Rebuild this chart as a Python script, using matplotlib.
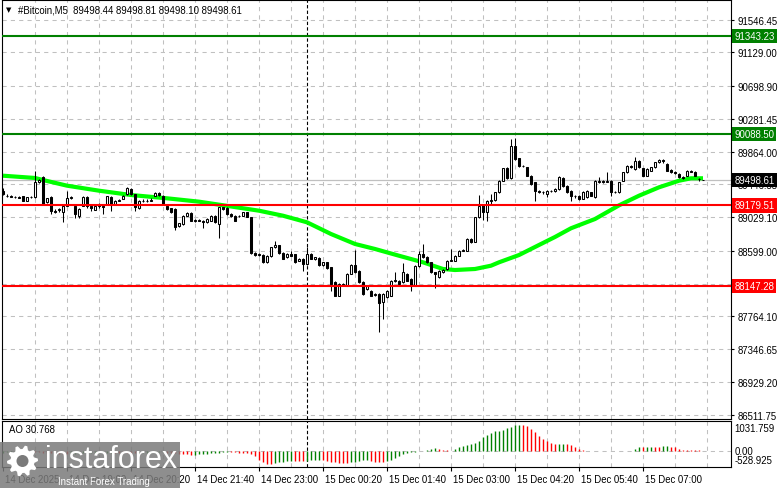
import numpy as np
import matplotlib
matplotlib.use('Agg')
import matplotlib.pyplot as plt
import matplotlib.transforms as mtransforms
from matplotlib.patches import Rectangle, Polygon, Circle

plt.rcParams['font.family'] = ['Liberation Sans', 'DejaVu Sans']

# M5 candles, bar 0 = 14 Dec 17:40
opens = [89367, 89304, 89295, 89282, 89285, 89295, 89240, 89282, 89282, 89482, 89537, 89219, 89282, 89110, 89125, 89091,
         89176, 89274, 89176, 89040, 89176, 89291, 89170, 89125, 89176, 89176, 89197, 89291, 89197, 89240, 89261, 89325,
         89389, 89325, 89142, 89240, 89236, 89240, 89304, 89333, 89295, 89176, 89142, 89134, 88921, 88942, 89048, 89078,
         88985, 88990, 88985, 88964, 88985, 89048, 88942, 89155, 89150, 89070, 89048, 89040, 89048, 89091, 89027, 88568,
         88545, 88547, 88453, 88530, 88645, 88675, 88572, 88520, 88560, 88560, 88475, 88496, 88432, 88560, 88496, 88513,
         88420, 88453, 88390, 88199, 88029, 88177, 88156, 88305, 88420, 88347, 88207, 88114, 88092, 88037, 88050, 87943,
         88010, 88029, 88220, 88220, 88199, 88305, 88240, 88156, 88411, 88560, 88517, 88453, 88326, 88262, 88330, 88369,
         88475, 88475, 88538, 88602, 88602, 88751, 88717, 89027, 89185, 89091, 89240, 89248, 89346, 89495, 89652, 89524,
         89941, 89779, 89686, 89664, 89558, 89473, 89367, 89346, 89325, 89367, 89367, 89388, 89524, 89431, 89367, 89303,
         89303, 89261, 89282, 89346, 89282, 89473, 89495, 89482, 89495, 89346, 89346, 89495, 89601, 89686, 89643, 89750,
         89652, 89558, 89622, 89664, 89728, 89758, 89707, 89635, 89601, 89580, 89537, 89558, 89622, 89609, 89520, 89498.44]
highs = [89397, 89320, 89310, 89300, 89298, 89300, 89290, 89300, 89614, 89520, 89558, 89280, 89304, 89130, 89145, 89180,
         89359, 89300, 89180, 89140, 89300, 89295, 89176, 89185, 89210, 89190, 89300, 89300, 89250, 89260, 89310, 89420,
         89400, 89330, 89250, 89255, 89255, 89270, 89350, 89345, 89310, 89180, 89150, 89140, 88960, 89055, 89090, 89090,
         89000, 89000, 88990, 89015, 89055, 89060, 89165, 89165, 89155, 89080, 89055, 89060, 89100, 89100, 89035, 88580,
         88570, 88555, 88545, 88655, 88730, 88680, 88580, 88575, 88602, 88565, 88505, 88505, 88645, 88570, 88525, 88520,
         88460, 88460, 88400, 88210, 88185, 88190, 88315, 88430, 88615, 88355, 88215, 88165, 88100, 88060, 88060, 88060,
         88100, 88225, 88335, 88230, 88450, 88315, 88250, 88420, 88602, 88687, 88530, 88460, 88335, 88355, 88370, 88480,
         88623, 88545, 88610, 88620, 88760, 88765, 89035, 89312, 89195, 89250, 89325, 89355, 89505, 89660, 89665, 90026,
         90034, 89790, 89700, 89675, 89565, 89480, 89380, 89365, 89375, 89380, 89400, 89550, 89540, 89440, 89375, 89315,
         89310, 89360, 89375, 89355, 89505, 89537, 89505, 89601, 89505, 89365, 89480, 89610, 89695, 89695, 89792, 89760,
         89660, 89650, 89675, 89735, 89770, 89772, 89715, 89645, 89612, 89590, 89548, 89630, 89630, 89618, 89530, 89498.81]
lows = [89312, 89290, 89282, 89270, 89270, 89232, 89232, 89272, 89270, 89470, 89189, 89210, 89070, 89085, 89090, 88972,
        89170, 89265, 89015, 89015, 89170, 89142, 89112, 89120, 89150, 89070, 89190, 89112, 89190, 89230, 89255, 89315,
        89315, 89104, 89135, 89225, 89228, 89230, 89295, 89300, 89190, 89125, 89080, 88870, 88910, 88935, 89040, 88975,
        88970, 88975, 88887, 88955, 88980, 88955, 88760, 89125, 89060, 89030, 88975, 89030, 89040, 89030, 88555, 88530,
        88530, 88445, 88445, 88525, 88640, 88565, 88490, 88510, 88530, 88445, 88465, 88347, 88425, 88490, 88488, 88410,
        88410, 88370, 88092, 88020, 88020, 88150, 88150, 88300, 88315, 88190, 88040, 88100, 88020, 88025, 87570, 87731,
        88000, 88020, 88200, 88165, 88190, 88210, 88092, 88150, 88400, 88510, 88445, 88320, 88122, 88255, 88320, 88360,
        88465, 88470, 88530, 88595, 88595, 88705, 88710, 89020, 88990, 88980, 89197, 89240, 89340, 89490, 89515, 89515,
        89760, 89675, 89665, 89550, 89445, 89240, 89335, 89330, 89282, 89350, 89355, 89380, 89420, 89335, 89240, 89269,
        89250, 89255, 89275, 89295, 89275, 89465, 89470, 89475, 89303, 89335, 89340, 89485, 89595, 89660, 89635, 89655,
        89550, 89550, 89615, 89655, 89720, 89725, 89615, 89590, 89585, 89525, 89520, 89550, 89600, 89550, 89490, 89498.10]
closes = [89325, 89300, 89291, 89286, 89280, 89240, 89282, 89286, 89482, 89500, 89197, 89274, 89112, 89100, 89134, 89176,
          89274, 89290, 89070, 89134, 89291, 89176, 89140, 89176, 89197, 89155, 89295, 89197, 89240, 89245, 89295, 89397,
          89325, 89155, 89240, 89236, 89240, 89245, 89333, 89310, 89197, 89134, 89091, 88900, 88950, 89048, 89078, 88985,
          88990, 88985, 88964, 89006, 89048, 88964, 89155, 89134, 89070, 89040, 88985, 89048, 89091, 89036, 88568, 88545,
          88555, 88453, 88538, 88645, 88675, 88572, 88496, 88560, 88540, 88453, 88496, 88432, 88560, 88496, 88517, 88420,
          88453, 88377, 88177, 88029, 88177, 88160, 88305, 88420, 88326, 88199, 88050, 88150, 88029, 88045, 87935, 88050,
          88092, 88220, 88225, 88177, 88326, 88220, 88156, 88411, 88560, 88517, 88453, 88326, 88310, 88347, 88360, 88475,
          88480, 88538, 88602, 88606, 88751, 88717, 89027, 89176, 89091, 89240, 89248, 89346, 89495, 89652, 89524, 89941,
          89771, 89686, 89680, 89558, 89452, 89367, 89350, 89350, 89367, 89362, 89388, 89537, 89431, 89346, 89303, 89300,
          89261, 89354, 89367, 89303, 89495, 89495, 89482, 89495, 89346, 89350, 89473, 89601, 89686, 89673, 89750, 89664,
          89558, 89643, 89664, 89728, 89758, 89740, 89622, 89601, 89597, 89537, 89533, 89622, 89609, 89558, 89510, 89498.61]

# moving average (bar index, price)
ma_bar = [0, 8, 10, 16, 24, 32, 41, 49, 54, 64, 70, 76, 82, 88, 93, 99, 105, 110, 113,
          118, 122, 124, 129, 134, 138, 142, 148, 154, 159, 164, 169, 172, 175]
ma_price = [89558, 89529, 89503, 89431, 89367, 89312, 89270, 89227, 89189, 89112, 89048, 88964, 88815,
            88688, 88624, 88538, 88454, 88369, 88356, 88369, 88411, 88454, 88547, 88675, 88777, 88888,
            89006, 89180, 89303, 89410, 89494, 89525, 89525]

# Awesome Oscillator
ao = [-40, -35, -30, -25, -20, -18, -15,
      -20, -28, -35, -45, -55, -62, -70, -75, -80, -85,
      -82, -78, -74, -70, -65, -60, -56, -52, -48, -45, -42,
      -45, -50, -52, -55, -58, -60,
      -57, -54, -50, -45, -40, -36, -33,
      -38, -50, -62,
      -75, -85, -100, -112,
      -105, -95, -85, -78, -68, -58, -45, -35, -25,
      -28, -35, -45, -55, -70,
      -92, -160, -280, -373, -415, -427, -390, -366,
      -349, -332, -315, -325, -332, -339, -322, -305, -295, -288,
      -298, -322, -346, -366, -383, -400, -407, -373, -346, -325,
      -305, -298, -322, -349, -366, -373, -339, -288, -230, -153,
      -85, -41, -17, -10, 5, 15, 40, 70, 100, 90,
      60, 35, 30, 90, 140, 190, 214, 247, 271, 339,
      475, 553, 621, 678, 700, 723, 780, 825, 893, 895,
      881, 848, 757, 644, 531, 418, 339, 283, 249, 252,
      255, 240, 215, 136, 79, 45, 30, 20, 12, 8,
      5, 20, 25, 15, 8, 5, 2, 25, 79, 147,
      136, 150, 158, 150, 146, 181, 192, 147, 140, 79,
      55, 48, 42, 37, 33, 30.768]

levels = [91343.23, 90088.50, 89179.51, 88147.28]
level_colors = ['#008000', '#008000', '#ff0000', '#ff0000']
last_price = 89498.61

price_grid = [91546.45, 91129.00, 90698.90, 90281.45, 89864.00, 89446.55, 89029.10,
              88599.00, 88181.55, 87764.10, 87346.65, 86929.20, 86511.75]
# 88181.55 sits under the 88147.28 label, so only its grid line shows
price_ticks = [91546.45, 91129.00, 90698.90, 90281.45, 89864.00, 89446.55, 89029.10,
               88599.00, 87764.10, 87346.65, 86929.20, 86511.75]
time_pos = [0, 16, 32, 48, 64, 80, 96, 112, 128, 144, 160]
time_labels = ['14 Dec 2025', '14 Dec 19:00', '14 Dec 20:20', '14 Dec 21:40', '14 Dec 23:00',
               '15 Dec 00:20', '15 Dec 01:40', '15 Dec 03:00', '15 Dec 04:20', '15 Dec 05:40',
               '15 Dec 07:00']
day_sep = 76

W, H = 781, 489
FS = 6.9


def frame(x0, y0, x1, y1):
    return [x0 / W, 1 - y1 / H, (x1 - x0) / W, (y1 - y0) / H]


fig = plt.figure(figsize=(W / 100, H / 100), dpi=100)
ax = fig.add_axes(frame(2, 1, 731, 420))
ax2 = fig.add_axes(frame(2, 422, 731, 468))

for a in (ax, ax2):
    a.set_xlim(-0.25, 182)
    for s in a.spines.values():
        s.set_linewidth(0.8)
        s.set_color('black')
    for g in range(8, 177, 8):
        a.axvline(g, color='#c0c0c0', ls=(0, (4, 4)), lw=0.75, zorder=0.5)
    a.axvline(day_sep, color='black', ls=(0, (3, 2)), lw=0.8, zorder=0.6)

# --- price panel
ax.set_ylim(86457, 91797.5)
for v in price_grid:
    ax.axhline(v, color='#c0c0c0', ls=(0, (4, 4)), lw=0.75, zorder=0.5)
ax.axhline(last_price, color='#c0c0c0', lw=0.9, zorder=0.8)

ax.plot(ma_bar, ma_price, color='#00ff00', lw=3.0, solid_capstyle='butt', zorder=2)

o = np.array(opens, dtype=float)
h = np.array(highs, dtype=float)
l = np.array(lows, dtype=float)
c = np.array(closes, dtype=float)
idx = np.arange(len(c))
up = c >= o
ax.vlines(idx, l, h, color='black', lw=0.75, zorder=3)
ax.bar(idx[up], (c - o)[up], bottom=o[up], width=0.65, color='white',
       edgecolor='black', lw=0.75, zorder=4)
ax.bar(idx[~up], (o - c)[~up], bottom=c[~up], width=0.65, color='black',
       edgecolor='black', lw=0.75, zorder=4)

for lv, col in zip(levels, level_colors):
    ax.axhline(lv, color=col, lw=1.5, zorder=5)

ax.set_xticks([])
ax.yaxis.tick_right()
ax.set_yticks(price_ticks)
ax.set_yticklabels([f'{v:.2f}' for v in price_ticks])
ax.tick_params(axis='y', length=2, pad=2.5, labelsize=FS, width=0.8)

ytr = ax.get_yaxis_transform()
for lv, col in zip(levels + [last_price], level_colors + ['black']):
    ax.text(1.0045, lv, f'{lv:.2f}', transform=ytr, color='white', fontsize=FS,
            va='center', ha='left', clip_on=False, zorder=10,
            bbox=dict(boxstyle='square,pad=0.22', fc=col, ec='none'))

fig.text(6 / W, 1 - 10.5 / H, '\u25bc', fontsize=5, family='DejaVu Sans', va='center', ha='left')
fig.text(18 / W, 1 - 10.5 / H, '#Bitcoin,M5  89498.44 89498.81 89498.10 89498.61',
         fontsize=FS, va='center', ha='left')

# --- AO panel
ax2.set_ylim(-528.925, 1031.759)
ax2.axhline(0, color='#c0c0c0', ls=(0, (4, 4)), lw=0.75, zorder=0.5)
ao_arr = np.array(ao)
ao_col = ['#008000' if i == 0 or ao_arr[i] > ao_arr[i - 1] else '#ff0000' for i in range(len(ao_arr))]
ax2.vlines(idx, 0, ao_arr, colors=ao_col, lw=1.0, zorder=2)
ax2.set_yticks([])
ax2.set_xticks(time_pos)
ax2.set_xticklabels(time_labels)
ax2.tick_params(axis='x', length=3, pad=2, labelsize=FS, width=0.8)
shift = mtransforms.ScaledTranslation(2 / 100, 0, fig.dpi_scale_trans)
for lbl in ax2.get_xticklabels():
    lbl.set_horizontalalignment('left')
    lbl.set_transform(lbl.get_transform() + shift)

ax2.text(1.0045, 0.85, '1031.759', transform=ax2.transAxes, fontsize=FS, va='center', ha='left', clip_on=False)
ax2.text(1.0045, 0.34, '0.00', transform=ax2.transAxes, fontsize=FS, va='center', ha='left', clip_on=False)
ax2.text(1.0045, 0.15, '-528.925', transform=ax2.transAxes, fontsize=FS, va='center', ha='left', clip_on=False)
ax2.text(7 / 729, 0.83, 'AO 30.768', transform=ax2.transAxes, fontsize=FS, va='center', ha='left')

# --- watermark
fig.add_artist(Rectangle((0, 0), 180 / W, 46 / H, transform=fig.transFigure,
                         fc='#7a7a7a', ec='none', alpha=0.85, zorder=20))
ang = np.linspace(0, 2 * np.pi, 41)[:-1]
rad = np.where((np.arange(40) // 2) % 2 == 0, 0.155, 0.12)
gear = np.column_stack([0.225 + rad * np.cos(ang), 0.27 + rad * np.sin(ang)])
fig.add_artist(Polygon(gear, closed=True, transform=fig.dpi_scale_trans, fc='white', ec='none', zorder=21))
fig.add_artist(Circle((0.225, 0.27), 0.06, transform=fig.dpi_scale_trans, fc='#7a7a7a', ec='none', zorder=22))
fig.text(45 / W, 1 - 460 / H, 'instaforex', color='white', fontsize=22, va='center', ha='left', zorder=23)
fig.text(58 / W, 1 - 482 / H, 'Instant Forex Trading', color='white', fontsize=7, va='center',
         ha='left', zorder=23)

fig.savefig('out.png', dpi=100)
